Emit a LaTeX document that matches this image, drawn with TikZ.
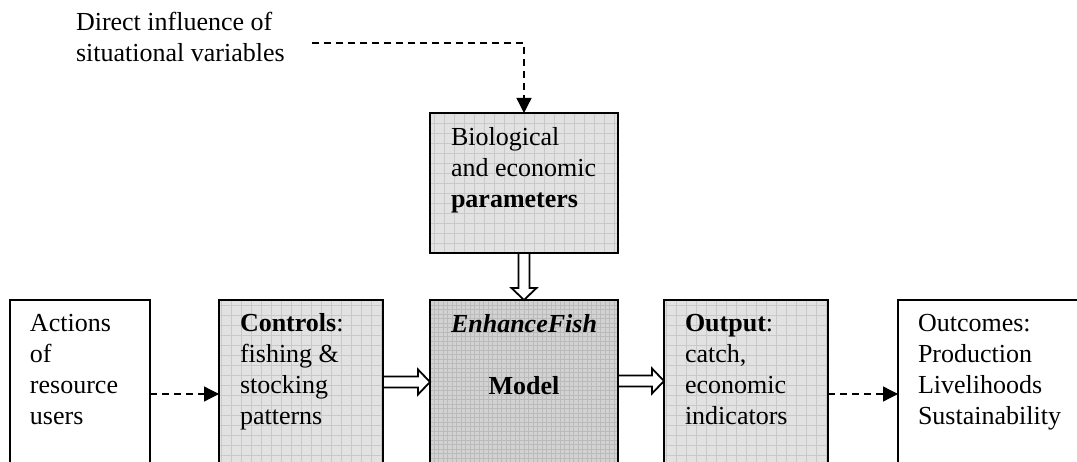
\documentclass[tikz,border=0pt]{standalone}
\usepackage{fontspec}
\setmainfont{Liberation Serif}
\usetikzlibrary{arrows.meta,calc}
\definecolor{lightfill}{HTML}{E2E2E2}
\definecolor{lightgrid}{HTML}{C9C9C9}
\definecolor{darkfill}{HTML}{D2D2D2}
\definecolor{darkgrid}{HTML}{BBBBBB}
\newcommand\txtlines[2]{\begin{tabular}[t]{@{}#1@{}}#2\end{tabular}}
\newcommand\hollowH[3]{% start, tip, y
  \coordinate (hs) at (#1 |- 0,#3);
  \coordinate (ht) at (#2 |- 0,#3);
  \draw[hollow] ($(hs)+(0,-5.5)$) -- ($(ht)+(-12,-5.5)$) -- ($(ht)+(-12,-12.5)$) -- (ht)
    -- ($(ht)+(-12,12.5)$) -- ($(ht)+(-12,5.5)$) -- ($(hs)+(0,5.5)$) -- cycle;}
\begin{document}
\begin{tikzpicture}[x=1pt,y=-1pt,
  every node/.style={inner sep=0pt, outer sep=0pt},
  box/.style={draw=black, line width=1.8pt, rectangle, anchor=north west},
  lightbox/.style={box, fill=lightfill, path picture={
     \draw[lightgrid, line width=0.7pt, step=10pt] (path picture bounding box.south west) grid (path picture bounding box.north east);}},
  darkbox/.style={box, fill=darkfill, path picture={
     \draw[darkgrid, line width=0.8pt, step=4.5pt] (path picture bounding box.south west) grid (path picture bounding box.north east);}},
  txt/.style={anchor=base west, font=\fontsize{26}{30.7}\selectfont},
  dasharrow/.style={draw=black, line width=1.3pt, dash pattern=on 7pt off 5pt, -{Triangle[length=15pt,width=15pt]}},
  hollow/.style={draw=black, line width=1.8pt, fill=white, line join=miter}
]
\useasboundingbox (0,0) rectangle (1077,462);
\clip (0,0) rectangle (1077,462);
\fill[white] (0,0) rectangle (1077,462);

% boxes
\node[lightbox, minimum width=188pt, minimum height=140pt] (bio) at (430,113) {};
\node[box, minimum width=140pt, minimum height=190pt] (act) at (10,300) {};
\node[lightbox, minimum width=164pt, minimum height=190pt] (ctrl) at (219,300) {};
\node[darkbox, minimum width=188pt, minimum height=190pt] (model) at (430,300) {};
\node[lightbox, minimum width=164pt, minimum height=190pt] (out) at (664,300) {};
\node[box, minimum width=200pt, minimum height=190pt] (outc) at (898,300) {};

% texts
\node[txt] (lbl) at (76,31) {\txtlines{l}{Direct influence of\\situational variables}};
\node[txt] (biot) at (451,146) {\txtlines{l}{Biological\\and economic\\\textbf{parameters}}};
\node[txt] (actt) at (30,332) {\txtlines{l}{Actions\\of\\resource\\users}};
\node[txt] (ctrlt) at (240,332) {\txtlines{l}{\textbf{Controls}:\\fishing \&\\stocking\\patterns}};
\node[txt, anchor=base] (modt) at (524,333) {\txtlines{c}{\textbf{\textit{EnhanceFish}}\\ \\\textbf{Model}}};
\node[txt] (outt) at (685,332) {\txtlines{l}{\textbf{Output}:\\catch,\\economic\\indicators}};
\node[txt] (outct) at (918,332) {\txtlines{l}{Outcomes:\\Production\\Livelihoods\\Sustainability}};

% dashed connectors
\coordinate (dstart) at (312,43);
\draw[dasharrow] (dstart) -| (bio.north);
\draw[dasharrow] (act.east |- 0,394) -- (ctrl.west |- 0,394);
\draw[dasharrow] (out.east |- 0,394) -- (outc.west |- 0,394);

% hollow arrows
\hollowH{ctrl.east}{model.west}{382}
\hollowH{model.east}{out.west}{381}
\coordinate (vs) at (bio.south);
\coordinate (vt) at (model.north);
\draw[hollow] ($(vs)+(-5.5,0)$) -- ($(vt)+(-5.5,-12)$) -- ($(vt)+(-12.5,-12)$) -- (vt)
  -- ($(vt)+(12.5,-12)$) -- ($(vt)+(5.5,-12)$) -- ($(vs)+(5.5,0)$) -- cycle;
\end{tikzpicture}
\end{document}
